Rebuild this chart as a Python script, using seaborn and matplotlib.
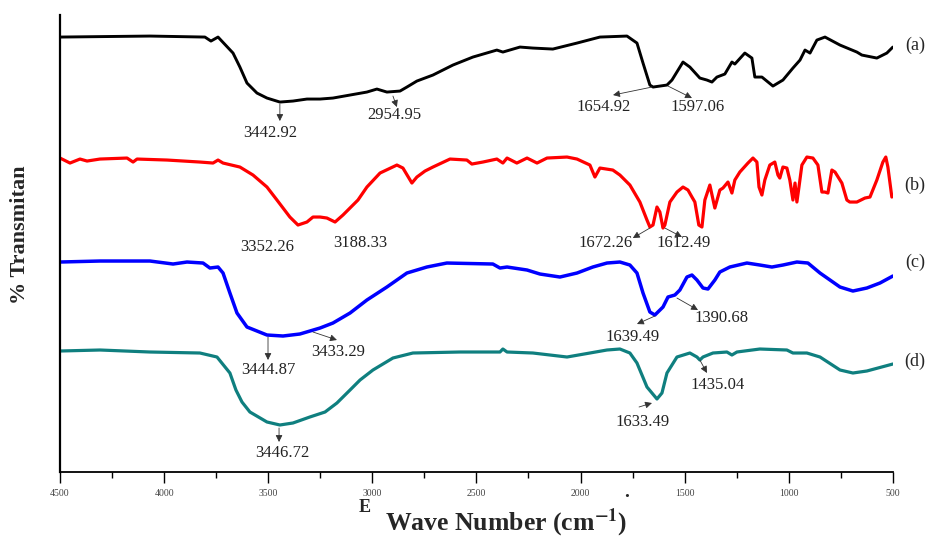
import matplotlib
matplotlib.use('Agg')
import matplotlib.pyplot as plt
from matplotlib.ticker import MultipleLocator
import seaborn as sns
import pandas as pd

# FTIR spectra (wave number, % transmittance, offset units)
wn_a = [4500, 4068, 3804, 3775, 3741, 3669, 3636, 3602, 3554, 3506, 3444, 3381, 3314, 3251,
        3189, 3026, 2978, 2930, 2867, 2834, 2786, 2709, 2613, 2517, 2402, 2373, 2291, 2229,
        2133, 2017, 1907, 1777, 1729, 1700, 1667, 1652, 1585, 1561, 1508, 1475, 1427, 1393,
        1369, 1345, 1307, 1273, 1259, 1211, 1177, 1163, 1129, 1076, 1028, 980, 946, 922, 898,
        865, 826, 754, 673, 649, 577, 529, 500]
t_a = [87.0, 87.2, 87.0, 86.2, 87.0, 83.8, 81.0, 77.8, 75.8, 74.8, 74.0, 74.2, 74.6, 74.6,
       74.8, 76.0, 76.6, 76.0, 76.2, 77.0, 78.2, 79.4, 81.4, 83.0, 84.4, 84.0, 85.0, 84.8,
       84.6, 85.8, 87.0, 87.2, 85.8, 81.8, 77.4, 77.0, 77.4, 78.4, 82.0, 81.0, 78.8, 78.4,
       78.0, 79.0, 79.6, 82.0, 81.6, 83.8, 82.8, 79.0, 79.0, 77.2, 78.4, 80.8, 82.4, 84.4, 83.8,
       86.4, 87.0, 85.4, 84.0, 83.4, 82.8, 83.8, 85.0]

wn_b = [4500, 4452, 4404, 4370, 4308, 4178, 4149, 4130, 3986, 3828, 3765, 3741, 3717, 3636,
        3573, 3506, 3458, 3396, 3357, 3314, 3285, 3251, 3218, 3179, 3141, 3093, 3069, 3026,
        2963, 2882, 2853, 2810, 2786, 2747, 2709, 2627, 2546, 2522, 2469, 2402, 2373, 2353,
        2306, 2257, 2209, 2161, 2065, 2017, 1955, 1931, 1907, 1845, 1811, 1763, 1715, 1681,
        1667, 1652, 1633, 1619, 1604, 1595, 1571, 1537, 1508, 1484, 1465, 1451, 1432, 1417,
        1403, 1379, 1355, 1331, 1316, 1292, 1273, 1259, 1235, 1196, 1172, 1153, 1143, 1129,
        1115, 1091, 1067, 1052, 1043, 1028, 1009, 995, 980, 970, 961, 951, 937, 913, 884, 860,
        841, 827, 812, 793, 778, 745, 721, 707, 673, 634, 610, 577, 548, 534, 524, 505]
t_b = [62.8, 61.8, 62.6, 62.2, 62.6, 62.8, 62.0, 62.6, 62.4, 62.0, 61.8, 62.4, 61.8, 61.0,
       59.4, 57.0, 54.4, 51.0, 49.4, 50.0, 51.0, 51.0, 50.8, 50.0, 51.4, 53.4, 54.4, 57.0,
       59.8, 61.4, 60.8, 57.8, 59.0, 60.2, 61.0, 62.6, 62.4, 61.6, 62.0, 62.6, 61.8, 62.8,
       61.8, 62.8, 61.8, 62.8, 63.0, 62.6, 61.4, 59.0, 60.8, 60.4, 59.4, 57.4, 54.0, 50.4,
       49.0, 49.4, 53.0, 52.0, 48.8, 49.4, 54.0, 56.0, 57.0, 56.4, 55.0, 54.0, 49.4, 49.0,
       54.4, 57.4, 52.8, 56.4, 56.8, 58.0, 55.8, 58.4, 60.0, 61.8, 62.8, 62.0, 57.0, 55.4,
       58.4, 61.4, 62.0, 59.4, 58.8, 61.0, 60.8, 58.4, 54.4, 57.8, 54.0, 57.0, 61.4, 63.0, 62.8, 61.4,
       56.0, 56.0, 55.8, 60.4, 60.0, 57.8, 54.4, 54.0, 54.0, 54.8, 55.0, 58.4, 62.0, 63.0, 61.0, 55.0]

wn_c = [4500, 4308, 4068, 3957, 3890, 3813, 3780, 3741, 3717, 3684, 3650, 3602, 3506, 3429,
        3348, 3251, 3189, 3107, 3026, 2930, 2834, 2738, 2642, 2421, 2387, 2353, 2257, 2195,
        2099, 2017, 1941, 1873, 1811, 1763, 1729, 1700, 1667, 1643, 1604, 1580, 1547, 1523,
        1489, 1465, 1441, 1412, 1388, 1355, 1331, 1283, 1201, 1139, 1081, 1028, 961, 908, 850,
        754, 692, 625, 562, 500]
t_c = [42.0, 42.2, 42.2, 41.6, 42.0, 41.8, 40.8, 41.0, 39.8, 35.8, 31.8, 29.0, 27.4, 27.2,
       27.6, 28.8, 29.8, 31.8, 34.4, 37.0, 39.8, 41.0, 41.8, 41.6, 40.8, 41.0, 40.4, 39.6,
       39.0, 39.8, 41.0, 41.8, 42.0, 41.4, 39.8, 35.8, 32.0, 31.4, 33.0, 35.0, 35.4, 36.4,
       39.0, 39.4, 38.4, 36.8, 36.6, 38.4, 40.0, 41.0, 41.8, 41.4, 41.0, 41.4, 42.0, 41.8, 39.8,
       37.0, 36.2, 36.8, 37.8, 39.2]

wn_d = [4500, 4308, 4068, 3828, 3746, 3684, 3655, 3626, 3588, 3506, 3444, 3381, 3300, 3227,
        3170, 3107, 3059, 2997, 2901, 2805, 2579, 2387, 2373, 2353, 2229, 2065, 1955, 1873,
        1811, 1763, 1729, 1681, 1633, 1609, 1585, 1537, 1475, 1441, 1427, 1412, 1364, 1297,
        1273, 1249, 1139, 1009, 980, 913, 850, 754, 692, 625, 500]
t_d = [24.2, 24.4, 24.0, 23.8, 23.0, 19.8, 16.4, 14.0, 12.0, 10.0, 9.4, 9.8, 11.0, 12.0,
       13.8, 16.4, 18.4, 20.4, 22.8, 23.8, 24.0, 24.0, 24.6, 24.0, 23.8, 23.0, 23.8, 24.4,
       24.6, 23.8, 21.8, 17.0, 14.6, 15.8, 19.8, 23.0, 23.8, 23.0, 22.4, 23.0, 23.8, 24.0,
       23.4, 24.0, 24.6, 24.4, 23.8, 23.8, 23.0, 20.4, 19.8, 20.2, 21.6]

series_names = ['(a)', '(b)', '(c)', '(d)']
series_colors = ['#000000', '#ff0000', '#0000ff', '#0f7f7f']
name_pos_t = [85.4, 57.4, 42.0, 22.2]

# peak labels: text, text position (wn, T), arrow tail, arrow head
peak_labels = ['3442.92', '2954.95', '1654.92', '1597.06', '3352.26', '3188.33', '1672.26',
               '1612.49', '3433.29', '3444.87', '1639.49', '1390.68', '3446.72', '1633.49', '1435.04']
peak_text_xy = [(3492, 67.8), (2896, 71.4), (1888, 73.0), (1436, 73.0), (3506, 45.0),
                (3059, 45.8), (1880, 45.8), (1505, 45.8), (3165, 24.0), (3501, 20.4),
                (1748, 27.0), (1321, 30.8), (3434, 3.8), (1700, 10.0), (1340, 17.4)]
arrow_tail = [(3444, 73.6), (2901, 75.2), (1657, 77.0), (1580, 77.2), None, None,
              (1667, 48.8), (1595, 48.8), (3285, 28.0), (3501, 27.0), (1643, 31.2),
              (1537, 34.8), (3448, 8.8), (1719, 13.0), (1427, 22.4)]
arrow_head = [(3444, 70.2), (2882, 73.0), (1844, 75.4), (1465, 74.8), None, None,
              (1749, 46.8), (1513, 47.0), (3170, 26.4), (3501, 22.4), (1729, 29.6),
              (1436, 32.4), (3448, 6.0), (1657, 13.8), (1393, 19.8)]

sns.set_theme(style='ticks')
plt.rcParams['font.family'] = ['Liberation Serif', 'DejaVu Serif']
plt.rcParams['mathtext.fontset'] = 'stix'

fig, ax = plt.subplots(figsize=(9.33, 5.38), dpi=100)
fig.subplots_adjust(left=0.0643, right=0.957, bottom=0.1227, top=0.972)

spectra = [(wn_a, t_a), (wn_b, t_b), (wn_c, t_c), (wn_d, t_d)]
widths = [2.1, 2.3, 2.5, 2.3]
for (wn, t), col, lw in zip(spectra, series_colors, widths):
    df = pd.DataFrame({'wn': wn, 't': t})
    sns.lineplot(data=df, x='wn', y='t', color=col, lw=lw, sort=False,
                 estimator=None, ax=ax, solid_joinstyle='round', solid_capstyle='round')

for name, yy in zip(series_names, name_pos_t):
    ax.text(394, yy, name, fontsize=13, ha='center', va='center', clip_on=False)

for lab, txy, tail, head in zip(peak_labels, peak_text_xy, arrow_tail, arrow_head):
    ax.text(txy[0], txy[1], lab, fontsize=12, ha='center', va='center', color='#222222')
    if tail is not None:
        ax.annotate('', xy=head, xytext=tail,
                    arrowprops=dict(arrowstyle='-|>', color='#333333', lw=0.6,
                                    mutation_scale=10, shrinkA=0, shrinkB=0))

ax.set_xlim(4500, 500)
ax.set_ylim(0, 91.4)
ax.xaxis.set_major_locator(MultipleLocator(500))
ax.xaxis.set_minor_locator(MultipleLocator(250))
ax.set_yticks([])
ax.tick_params(axis='x', which='major', direction='out', length=8, width=1.0,
               labelsize=7, labelcolor='#444444', pad=4, color='black')
ax.tick_params(axis='x', which='minor', direction='out', length=4, width=1.0, color='black')

sns.despine(ax=ax)
ax.spines['left'].set_linewidth(1.6)
ax.spines['bottom'].set_linewidth(1.3)
ax.spines['left'].set_color('black')
ax.spines['bottom'].set_color('black')

ax.set_xlabel('Wave Number (cm$^{\\mathbf{-1}}$)', fontsize=18.5, fontweight='bold')
ax.xaxis.set_label_coords(0.536, -0.075)
ax.set_ylabel('% Transmitan', fontsize=16, fontweight='bold')
ax.yaxis.set_label_coords(-0.036, 0.519)

# stray marks present in the original figure
fig.text(0.391, 0.056, 'E', fontsize=13, fontweight='bold', ha='center', va='center')
fig.text(0.672, 0.084, '.', fontsize=14, fontweight='bold', ha='center', va='center')

plt.savefig('out.png', dpi=100)
